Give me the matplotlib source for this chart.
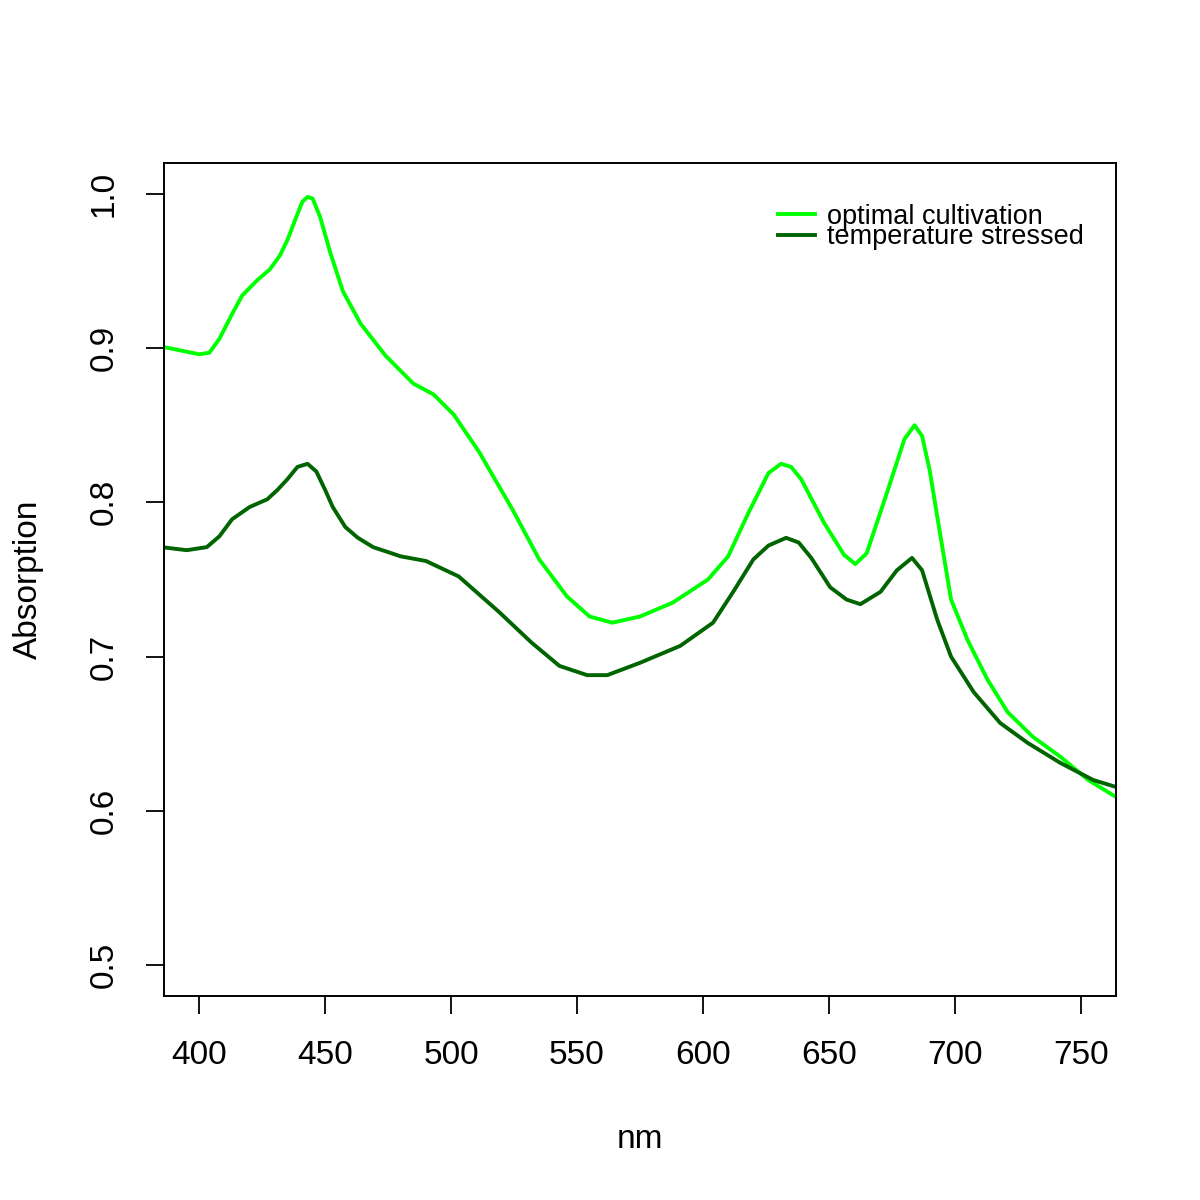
import matplotlib
matplotlib.use("Agg")
import matplotlib.pyplot as plt
import numpy as np

plt.rcParams['font.family'] = ['Liberation Sans', 'DejaVu Sans']

# optimal cultivation
nm_opt = [385, 394, 400, 404, 408, 413, 417, 423, 428, 432, 435, 439, 441, 443, 445,
          448, 452, 457, 464, 474, 485, 493, 501, 511, 524.5, 535, 546, 555, 564,
          575, 588, 602, 610, 618, 626, 631, 635, 639, 648, 656, 660.5, 665, 673,
          680, 684, 687, 690, 693, 698.5, 705, 713, 721, 731, 742, 753, 765]
abs_opt = [0.901, 0.898, 0.896, 0.897, 0.906, 0.922, 0.934, 0.944, 0.951, 0.960, 0.970,
           0.987, 0.995, 0.998, 0.997, 0.985, 0.962, 0.937, 0.916, 0.895, 0.877, 0.870,
           0.857, 0.833, 0.795, 0.763, 0.739, 0.726, 0.722, 0.726, 0.735, 0.750, 0.765,
           0.793, 0.819, 0.825, 0.823, 0.815, 0.787, 0.766, 0.760, 0.767, 0.806, 0.841,
           0.850, 0.843, 0.821, 0.791, 0.737, 0.711, 0.685, 0.664, 0.648, 0.635, 0.620,
           0.608]

# temperature stressed
nm_tmp = [385, 395, 403, 408, 413, 420, 427, 431, 435, 439, 443, 446.5, 450, 453, 458,
          463, 469, 480, 490, 503, 519, 532, 543, 554, 562, 575, 591, 604, 612, 620,
          626, 633, 638, 643, 650.5, 657, 662.5, 670.5, 677, 683, 687, 693, 698.5,
          707.5, 718, 729, 742, 755, 765]
abs_tmp = [0.771, 0.769, 0.771, 0.778, 0.789, 0.797, 0.802, 0.808, 0.815, 0.823, 0.825,
           0.820, 0.808, 0.797, 0.784, 0.777, 0.771, 0.765, 0.762, 0.752, 0.729, 0.709,
           0.694, 0.688, 0.688, 0.696, 0.707, 0.722, 0.742, 0.763, 0.772, 0.777, 0.774,
           0.764, 0.745, 0.737, 0.734, 0.742, 0.756, 0.764, 0.756, 0.724, 0.700, 0.677,
           0.657, 0.644, 0.631, 0.620, 0.615]

x_ticks = [400, 450, 500, 550, 600, 650, 700, 750]
y_ticks = [0.5, 0.6, 0.7, 0.8, 0.9, 1.0]

fig = plt.figure(figsize=(12, 12), dpi=100)
ax = fig.add_axes([164 / 1200, 1 - 996 / 1200, 952 / 1200, 833 / 1200])

ax.plot(nm_opt, abs_opt, color='#00FF00', lw=2.8, label='optimal cultivation')
ax.plot(nm_tmp, abs_tmp, color='#006400', lw=2.8, label='temperature stressed')

# R style 4% padding around 400..750 / 0.5..1.0
ax.set_xlim(400 - 14, 750 + 14)
ax.set_ylim(0.5 - 0.02, 1.0 + 0.02)

ax.set_xticks(x_ticks)
ax.set_xticklabels([str(v) for v in x_ticks])
ax.set_yticks(y_ticks)
ax.set_yticklabels(['%.1f' % v for v in y_ticks], rotation=90, va='center')
ax.tick_params(axis='both', length=13, width=1.3, labelsize=24, pad=19, direction='out')

for s in ax.spines.values():
    s.set_linewidth(1.4)

ax.set_xlabel('nm', fontsize=24, labelpad=38)
ax.set_ylabel('Absorption', fontsize=24, labelpad=32)

leg = ax.legend(loc='upper left', bbox_to_anchor=(0.645, 0.951), frameon=False,
                fontsize=19.5, handlelength=1.35, handletextpad=0.45,
                labelspacing=-0.2, borderaxespad=0, borderpad=0)

fig.savefig('out.png', dpi=100)
